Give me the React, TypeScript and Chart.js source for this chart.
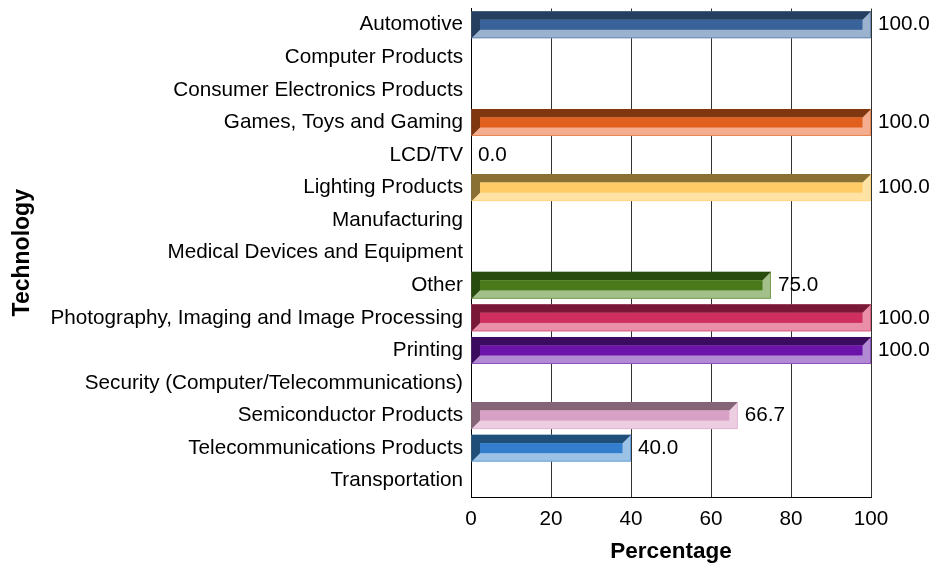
import React, { useEffect, useRef } from "react";
import { Chart, registerables } from "chart.js";

Chart.register(...registerables);

const categories = [
  "Automotive",
  "Computer Products",
  "Consumer Electronics Products",
  "Games, Toys and Gaming",
  "LCD/TV",
  "Lighting Products",
  "Manufacturing",
  "Medical Devices and Equipment",
  "Other",
  "Photography, Imaging and Image Processing",
  "Printing",
  "Security (Computer/Telecommunications)",
  "Semiconductor Products",
  "Telecommunications Products",
  "Transportation",
];

const values: (number | null)[] = [100, null, null, 100, 0, 100, null, null, 75, 100, 100, null, 66.7, 40, null];

const xTickMin = 0;
const xTickMax = 100;
const xTickStep = 20;

const xTitle = "Percentage";
const yTitle = "Technology";

// styles (per category)
const darkColors = ["#243F60", "#000", "#000", "#7F3710", "#000", "#8B7034", "#000", "#000", "#274C0E", "#7A1838", "#3B0B60", "#000", "#856478", "#1F4E79", "#000"];
const midColors = ["#386299", "#000", "#000", "#E2601E", "#000", "#FFCB66", "#000", "#000", "#49791A", "#CE2F5E", "#6B14AA", "#000", "#D9A0C5", "#337FCD", "#000"];
const lightColors = ["#9BB2CE", "#000", "#000", "#F4AD8F", "#000", "#FFE2A4", "#000", "#000", "#A3BF8A", "#E98FA8", "#B28AD3", "#000", "#EDCDE2", "#9CC2E6", "#000"];

const FONT = "'Liberation Sans', Arial, sans-serif";
const LABEL_SIZE = 20.7;

const bevelPlugin = {
  id: "bevelBars",
  afterDatasetsDraw(chart: any) {
    const ctx = chart.ctx;
    const meta = chart.getDatasetMeta(0);
    const data = chart.data.datasets[0].data;
    ctx.save();
    meta.data.forEach((el: any, i: number) => {
      const v = data[i];
      if (v === null || v === undefined) return;
      const p = el.getProps(["x", "y", "base", "height"], true);
      const L = Math.min(p.x, p.base);
      const R = Math.max(p.x, p.base);
      const T = p.y - p.height / 2;
      const B = p.y + p.height / 2;
      const w = R - L;
      if (w > 0.5) {
        const d = Math.min(8.5, w / 2, p.height / 2);
        ctx.fillStyle = lightColors[i];
        ctx.fillRect(L, T, w, B - T);
        ctx.fillStyle = darkColors[i];
        ctx.beginPath();
        ctx.moveTo(L, T);
        ctx.lineTo(R, T);
        ctx.lineTo(R - d, T + d);
        ctx.lineTo(L + d, T + d);
        ctx.lineTo(L + d, B - d);
        ctx.lineTo(L, B);
        ctx.closePath();
        ctx.fill();
        ctx.fillStyle = midColors[i];
        ctx.fillRect(L + d, T + d, w - 2 * d, B - T - 2 * d);
        ctx.strokeStyle = midColors[i];
        ctx.globalAlpha = 0.5;
        ctx.lineWidth = 1;
        ctx.beginPath();
        ctx.moveTo(L, B - 0.5);
        ctx.lineTo(R - 0.5, B - 0.5);
        ctx.lineTo(R - 0.5, T);
        ctx.stroke();
        ctx.globalAlpha = 1;
      }
      ctx.fillStyle = "#000";
      ctx.font = `${LABEL_SIZE}px ${FONT}`;
      ctx.textAlign = "left";
      ctx.textBaseline = "middle";
      ctx.fillText((v as number).toFixed(1), R + 7, p.y);
    });
    ctx.restore();
  },
};

export default function App() {
  const ref = useRef<HTMLCanvasElement>(null);
  useEffect(() => {
    document.body.style.margin = "0";
    const chart = new Chart(ref.current!, {
      type: "bar",
      data: {
        labels: categories,
        datasets: [
          {
            data: values as any,
            backgroundColor: "rgba(0,0,0,0)",
            borderWidth: 0,
            barPercentage: 0.83,
            categoryPercentage: 1,
          },
        ],
      },
      options: {
        indexAxis: "y",
        responsive: false,
        animation: false,
        events: [],
        layout: { padding: { top: 8.5, right: 75, left: 0, bottom: 0 } },
        plugins: { legend: { display: false }, tooltip: { enabled: false } },
        scales: {
          x: {
            min: xTickMin,
            max: xTickMax,
            ticks: { stepSize: xTickStep, color: "#000", font: { family: FONT, size: LABEL_SIZE }, padding: 10 },
            grid: { display: true, color: "#333", drawTicks: false, lineWidth: 1 },
            border: { display: true, color: "#000" },
            title: { display: true, text: xTitle, color: "#000", font: { family: FONT, size: 22.5, weight: "bold" }, padding: { top: 0, bottom: 2 } },
            afterFit(scale: any) {
              scale.height = 70;
              scale.paddingLeft = 0;
              scale.paddingRight = 0;
            },
          },
          y: {
            ticks: { color: "#000", font: { family: FONT, size: LABEL_SIZE }, padding: 8, autoSkip: false },
            grid: { display: false, drawTicks: false },
            border: { display: true, color: "#000" },
            title: { display: true, text: yTitle, color: "#000", font: { family: FONT, size: 23, weight: "bold" }, padding: { top: 9, bottom: 0 } },
            afterFit(scale: any) {
              scale.width = 471;
              scale.paddingTop = 0;
              scale.paddingBottom = 0;
            },
          },
        },
      },
      plugins: [bevelPlugin],
    });
    return () => chart.destroy();
  }, []);
  return <canvas ref={ref} width={946} height={567} style={{ display: "block" }} />;
}
